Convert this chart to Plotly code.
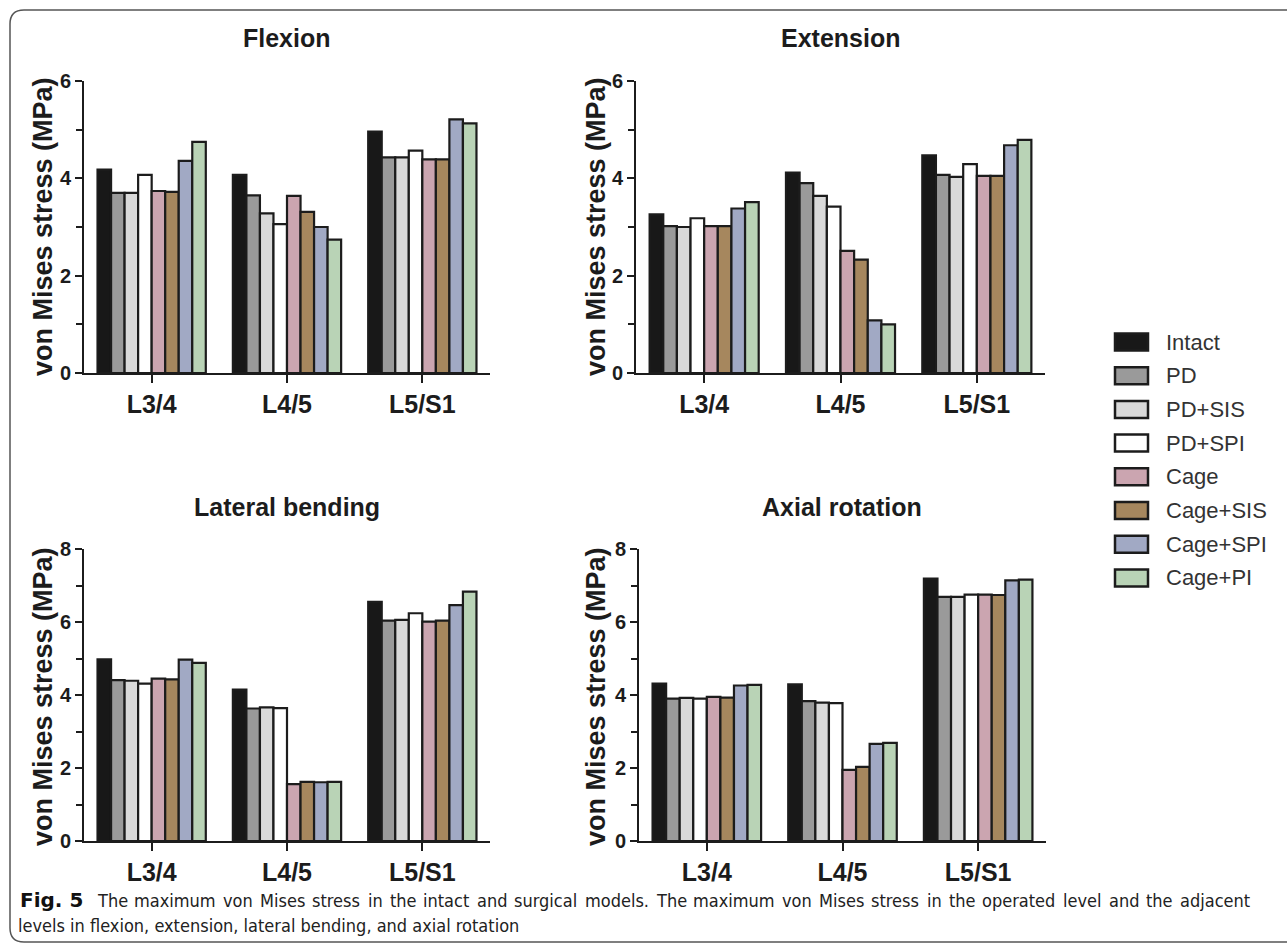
import plotly.graph_objects as go

W, H = 1287, 946

levels = ["L3/4", "L4/5", "L5/S1"]
series = ["Intact", "PD", "PD+SIS", "PD+SPI", "Cage", "Cage+SIS", "Cage+SPI", "Cage+PI"]
colors = ["#181818", "#9a9a9a", "#d9d9d9", "#ffffff", "#cba5b0", "#a6875e", "#a1a9c4", "#b9d3b6"]

flexion = {
    "Intact":   [4.18, 4.07, 4.96],
    "PD":       [3.70, 3.65, 4.43],
    "PD+SIS":   [3.70, 3.28, 4.43],
    "PD+SPI":   [4.07, 3.06, 4.57],
    "Cage":     [3.74, 3.64, 4.39],
    "Cage+SIS": [3.72, 3.31, 4.39],
    "Cage+SPI": [4.36, 3.00, 5.21],
    "Cage+PI":  [4.75, 2.74, 5.13],
}
extension = {
    "Intact":   [3.26, 4.12, 4.47],
    "PD":       [3.02, 3.90, 4.07],
    "PD+SIS":   [3.00, 3.64, 4.03],
    "PD+SPI":   [3.18, 3.42, 4.29],
    "Cage":     [3.02, 2.51, 4.05],
    "Cage+SIS": [3.02, 2.33, 4.05],
    "Cage+SPI": [3.38, 1.08, 4.68],
    "Cage+PI":  [3.51, 1.00, 4.79],
}
lateral = {
    "Intact":   [4.98, 4.15, 6.55],
    "PD":       [4.41, 3.63, 6.04],
    "PD+SIS":   [4.39, 3.66, 6.06],
    "PD+SPI":   [4.31, 3.64, 6.24],
    "Cage":     [4.45, 1.56, 6.01],
    "Cage+SIS": [4.43, 1.62, 6.04],
    "Cage+SPI": [4.97, 1.61, 6.46],
    "Cage+PI":  [4.88, 1.62, 6.83],
}
axial = {
    "Intact":   [4.31, 4.29, 7.19],
    "PD":       [3.90, 3.83, 6.69],
    "PD+SIS":   [3.92, 3.79, 6.69],
    "PD+SPI":   [3.90, 3.78, 6.75],
    "Cage":     [3.95, 1.95, 6.75],
    "Cage+SIS": [3.93, 2.03, 6.74],
    "Cage+SPI": [4.26, 2.66, 7.14],
    "Cage+PI":  [4.28, 2.69, 7.16],
}

panel_titles = ["Flexion", "Extension", "Lateral bending", "Axial rotation"]
panel_data = [flexion, extension, lateral, axial]
panel_ymax = [6, 6, 8, 8]
y_title = "von Mises stress (MPa)"

caption_label = "Fig. 5"
caption_line1 = ("The maximum von Mises stress in the intact and surgical models. "
                 "The maximum von Mises stress in the operated level and the adjacent")
caption_line2 = "levels in flexion, extension, lateral bending, and axial rotation"

# panel pixel boxes: (x0, x1, ytop, ybottom)
boxes = [(84, 490, 81, 373), (636, 1045, 81, 373), (84, 490, 549, 841), (639, 1046, 549, 841)]
title_pos = [(287, 38), (840, 38), (287, 507), (842, 507)]
ytitle_pos = [(43, 227), (596, 227), (43, 697), (596, 697)]

def px(x):
    return x / W

def py(y):
    return 1 - y / H

INK = "#1c1c1c"
FONT = "Liberation Sans, Arial, sans-serif"

fig = go.Figure()
layout = dict(
    width=W, height=H,
    margin=dict(l=0, r=0, t=0, b=0, pad=0, autoexpand=False),
    paper_bgcolor="white", plot_bgcolor="white",
    barmode="group", bargap=0.2, bargroupgap=0.0,
    showlegend=False,
    font=dict(family=FONT, color=INK),
)
annotations = []
shapes = []

for i, (data, box) in enumerate(zip(panel_data, boxes)):
    k = "" if i == 0 else str(i + 1)
    for s, c in zip(series, colors):
        fig.add_trace(go.Bar(
            x=levels, y=data[s], name=s,
            marker=dict(color=c, line=dict(color=INK, width=2.2)),
            xaxis="x" + k, yaxis="y" + k,
            offsetgroup=s,
        ))
    x0, x1, yt, yb = box
    layout["xaxis" + k] = dict(
        domain=[px(x0), px(x1)], anchor="y" + k, automargin=False,
        range=[-0.5, 2.5], showline=True, linecolor=INK, linewidth=2,
        ticks="outside", ticklen=8, tickwidth=2, tickcolor=INK,
        tickfont=dict(family=FONT, size=25, color=INK, weight="bold"),
        showgrid=False, zeroline=False, fixedrange=True,
    )
    layout["yaxis" + k] = dict(
        domain=[py(yb), py(yt)], anchor="x" + k, automargin=False,
        range=[0, panel_ymax[i]], tick0=0, dtick=2,
        showline=True, linecolor=INK, linewidth=2,
        ticks="outside", ticklen=7, tickwidth=2, tickcolor=INK,
        minor=dict(dtick=1, tick0=0, ticks="outside", ticklen=6, tickwidth=2, tickcolor=INK),
        tickfont=dict(family=FONT, size=20, color=INK, weight="bold"),
        showgrid=False, zeroline=False, fixedrange=True,
    )
    tx, ty = title_pos[i]
    annotations.append(dict(
        text=panel_titles[i], x=px(tx), y=py(ty), xref="paper", yref="paper",
        xanchor="center", yanchor="middle", showarrow=False,
        font=dict(family=FONT, size=25, color=INK, weight="bold"),
    ))
    ax_, ay_ = ytitle_pos[i]
    annotations.append(dict(
        text=y_title, x=px(ax_), y=py(ay_), xref="paper", yref="paper",
        xanchor="center", yanchor="middle", showarrow=False, textangle=-90,
        font=dict(family=FONT, size=27, color=INK, weight="bold"),
    ))

# legend (drawn manually to match rectangular swatches)
leg_x0, leg_x1 = 1115, 1148
leg_y0, leg_step, leg_h = 342, 33.7, 17
for j, (s, c) in enumerate(zip(series, colors)):
    cy = leg_y0 + j * leg_step
    shapes.append(dict(
        type="rect", xref="paper", yref="paper",
        x0=px(leg_x0), x1=px(leg_x1), y0=py(cy + leg_h / 2), y1=py(cy - leg_h / 2),
        fillcolor=c, line=dict(color=INK, width=2.5),
    ))
    annotations.append(dict(
        text=s, x=px(1164), y=py(cy), xref="paper", yref="paper",
        xanchor="left", yanchor="middle", showarrow=False,
        font=dict(family=FONT, size=22, color="#333333"),
    ))

# caption (first line justified word by word, like the typeset original)
CAP_FONT = "DejaVu Sans Condensed, sans-serif"
CAP_SIZE = 18
GLYPH_EM = {
    "T": .611, "M": .863, "F": .575, "h": .634, "e": .615, "m": .974, "a": .613, "x": .592,
    "i": .278, "u": .634, "v": .592, "o": .612, "n": .634, "s": .521, "t": .392, "r": .411,
    "d": .635, "c": .550, "g": .635, "l": .278, "p": .635, "j": .278, "f": .352, "b": .635,
    "y": .592, "k": .579, "w": .818, ".": .318, ",": .318,
}

def text_width(word, size):
    return sum(GLYPH_EM.get(ch, .6) for ch in word) * 0.9 * size

cap = dict(xref="paper", yref="paper", yanchor="middle", showarrow=False)
annotations.append(dict(text="<b>" + caption_label + "</b>", x=px(18), y=py(900), xanchor="left",
                        font=dict(family="DejaVu Sans, sans-serif", size=20, color="#111111"), **cap))
words = caption_line1.split(" ")
start, end = 95, 1248
widths = [text_width(w_, CAP_SIZE) for w_ in words]
gap = (end - start - sum(widths)) / (len(words) - 1)
xpos = start
for w_, wd in zip(words, widths):
    annotations.append(dict(text=w_, x=px(xpos), y=py(900), xanchor="left",
                            font=dict(family=CAP_FONT, size=CAP_SIZE, color="#222222"), **cap))
    xpos += wd + gap
annotations.append(dict(text=caption_line2, x=px(16), y=py(925), xanchor="left",
                        font=dict(family=CAP_FONT, size=CAP_SIZE, color="#222222"), **cap))

# rounded border frame
L, T, B, r = 10, 10, 942, 14
path = (f"M {px(W + 5)},{py(T)} L {px(L + r)},{py(T)} Q {px(L)},{py(T)} {px(L)},{py(T + r)} "
        f"L {px(L)},{py(B - r)} Q {px(L)},{py(B)} {px(L + r)},{py(B)} L {px(W + 5)},{py(B)}")
shapes.append(dict(type="path", xref="paper", yref="paper", path=path,
                   line=dict(color="#555555", width=1.5)))

layout["annotations"] = annotations
layout["shapes"] = shapes
fig.update_layout(**layout)
fig.write_html("out.html")
